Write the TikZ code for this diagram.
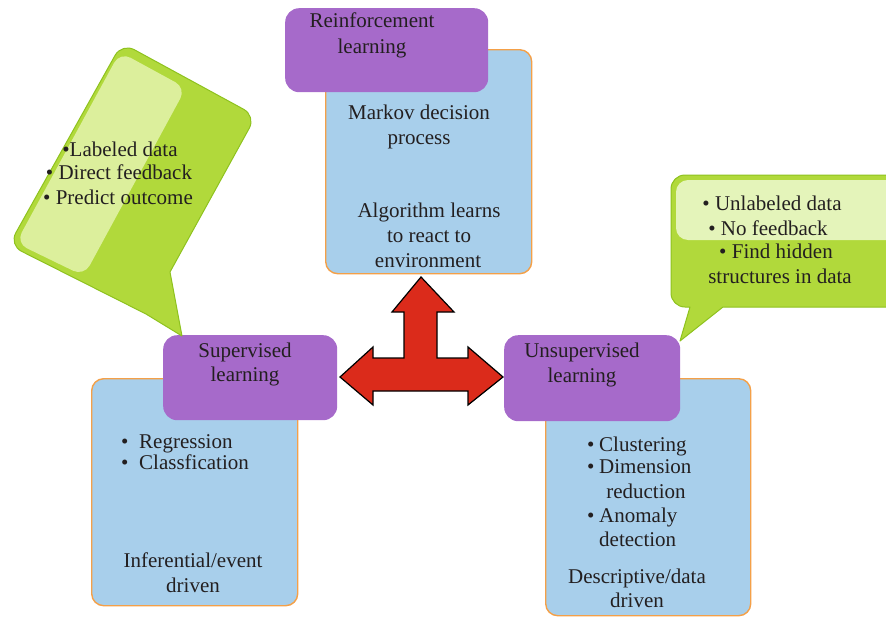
\documentclass[tikz,border=0pt]{standalone}
\usepackage{fontspec}
\setmainfont{Liberation Serif}
\definecolor{bluefill}{HTML}{A8CFEB}
\definecolor{orangeline}{HTML}{F4A048}
\definecolor{purplefill}{HTML}{A66ACA}
\definecolor{greenfill}{HTML}{B1D93B}
\definecolor{greenline}{HTML}{8EC21E}
\definecolor{greenlight}{HTML}{DCEF9C}
\definecolor{greenlight2}{HTML}{E4F4BA}
\definecolor{arrowred}{HTML}{DB2B1B}
\definecolor{txtcol}{HTML}{231F20}
\tikzset{
  bluebox/.style={draw=orangeline, line width=1.4pt, fill=bluefill, rounded corners=12pt, inner sep=0pt, anchor=north west},
  purplebox/.style={fill=purplefill, rounded corners=14pt, inner sep=0pt, anchor=north west},
  bubble/.style={fill=greenfill, draw=greenline, line width=1pt, line join=round},
  arrowshape/.style={fill=arrowred, draw=black, line width=1.2pt, line join=miter},
  txt/.style={font=\fontsize{21}{25}\selectfont, inner sep=0pt, text=txtcol, anchor=base},
  txtw/.style={txt, anchor=base west}
}
\begin{document}
\begin{tikzpicture}[x=1pt,y=-1pt]
\useasboundingbox (0,0) rectangle (886,616);
% blue boxes
\node[bluebox, minimum width=206pt, minimum height=224pt] (rlbox) at (325,49) {};
\node[bluebox, minimum width=206pt, minimum height=227pt] (slbox) at (91,378) {};
\node[bluebox, minimum width=205pt, minimum height=237pt] (ulbox) at (545,378) {};
% purple title boxes
\node[purplebox, minimum width=203pt, minimum height=84pt] (rltitle) at (285,8) {};
\node[purplebox, minimum width=174pt, minimum height=85pt] (sltitle) at (163,335) {};
\node[purplebox, minimum width=176pt, minimum height=86pt] (ultitle) at (504,335) {};
% left callout
\draw[bubble] (170,272) -- (182,336) -- (146,314) [rounded corners=14pt] -- (9,245) -- (122,43) -- (256,116) [sharp corners] -- cycle;
\fill[greenlight, rounded corners=12pt] (68,147.5) -- (120,52) -- (186,88) -- (84,276) -- (16,243) -- cycle;
% right callout
\draw[bubble] (723,307) -- (680,341) -- (690,307) [rounded corners=14pt] -- (671,307) -- (671,175) -- (905,175) -- (905,307) [sharp corners] -- cycle;
\fill[greenlight2, rounded corners=12pt] (676,180) rectangle (905,240);
% three-headed arrow
\draw[arrowshape] (421,277) -- (454,312) -- (437,312) -- (437,358) -- (468,358) -- (468,347) -- (503,377) -- (468,405) -- (468,391) -- (373,391) -- (373,405) -- (340,377) -- (373,347) -- (373,358) -- (404,358) -- (404,312) -- (392,312) -- cycle;
% texts: reinforcement
\node[txt] (r1) at (372,27) {Reinforcement};
\node[txt] (r2) at (372,53) {learning};
\node[txt] (m1) at (419,119) {Markov decision};
\node[txt] (m2) at (419,144) {process};
\node[txt] (a1) at (429,217) {Algorithm learns};
\node[txt] (a2) at (429,242) {to react to};
\node[txt] (a3) at (428,267) {environment};
% left callout text
\node[txt] (lb1) at (120,156) {•Labeled data};
\node[txt] (lb2) at (119,179) {• Direct feedback};
\node[txt] (lb3) at (118,204) {• Predict outcome};
% right callout text
\node[txt] (ub1) at (772,210) {• Unlabeled data};
\node[txt] (ub2) at (768,235) {• No feedback};
\node[txt] (ub3) at (776,258) {• Find hidden};
\node[txt] (ub4) at (780,283) {structures in data};
% supervised
\node[txt] (s1) at (245,357) {Supervised};
\node[txt] (s2) at (245,381) {learning};
\node[txtw] (sb1) at (121,448) {\makebox[18pt][l]{•}Regression};
\node[txtw] (sb2) at (121,469) {\makebox[18pt][l]{•}Classfication};
\node[txt] (s3) at (193,567) {Inferential/event};
\node[txt] (s4) at (193,592) {driven};
% unsupervised
\node[txt] (u1) at (582,357) {Unsupervised};
\node[txt] (u2) at (582,382) {learning};
\node[txtw] (ul1) at (587,451) {\makebox[12pt][l]{•}Clustering};
\node[txtw] (ul2) at (587,473) {\makebox[12pt][l]{•}Dimension};
\node[txt] (ul3) at (646,498) {reduction};
\node[txtw] (ul4) at (587,522) {\makebox[12pt][l]{•}Anomaly};
\node[txtw] (ul5) at (599,546) {detection};
\node[txt] (ud1) at (637,583) {Descriptive/data};
\node[txt] (ud2) at (637,607) {driven};
\end{tikzpicture}
\end{document}
